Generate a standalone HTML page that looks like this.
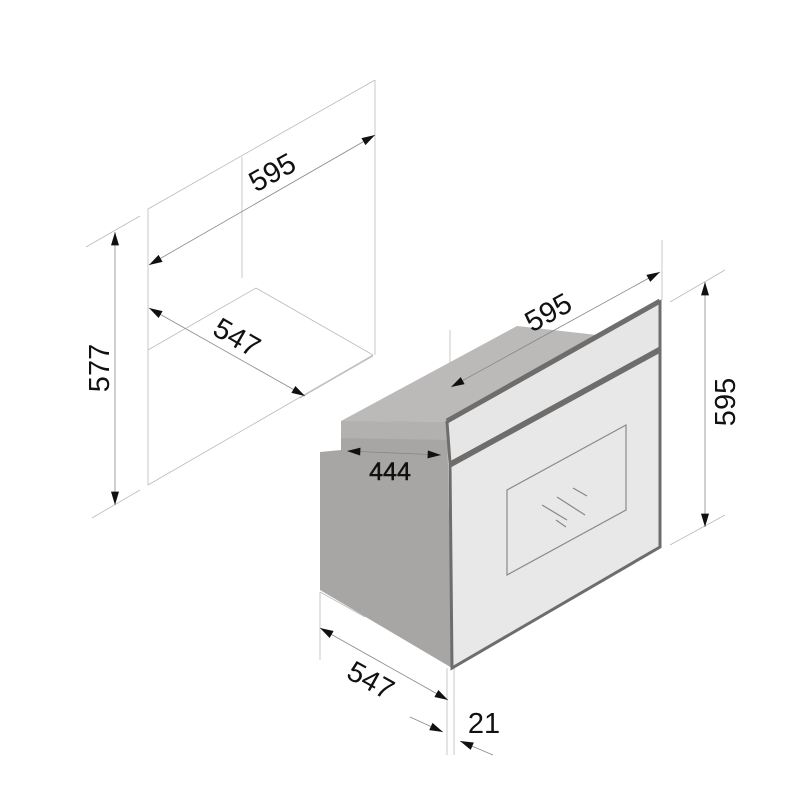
<!DOCTYPE html>
<html><head><meta charset="utf-8"><style>html,body{margin:0;padding:0;background:#fff}svg{display:block}</style></head>
<body>
<svg width="800" height="800" viewBox="0 0 800 800" xmlns="http://www.w3.org/2000/svg" font-family="Liberation Sans, sans-serif">
<defs>
<marker id="a" viewBox="0 0 10 6" refX="10" refY="3" markerWidth="16" markerHeight="8" markerUnits="userSpaceOnUse" orient="auto-start-reverse"><path d="M0,0 L10,3 L0,6 z" fill="#111"/></marker>
</defs>
<g stroke="#bbb" stroke-width="0.8" fill="none">
<line x1="148" y1="209" x2="148" y2="485"/>
<line x1="148" y1="209" x2="375" y2="80"/>
<line x1="375" y1="80" x2="375" y2="355"/>
<line x1="242" y1="157" x2="242" y2="278"/>
<line x1="148" y1="485" x2="373" y2="355"/>
<line x1="148" y1="350" x2="256" y2="288"/>
<line x1="256" y1="288" x2="373" y2="355"/>
<line x1="86" y1="247" x2="140" y2="216"/>
<line x1="92" y1="518" x2="140" y2="490"/>
<line x1="300" y1="398" x2="373" y2="356"/>
<line x1="662" y1="240" x2="662" y2="300"/>
<line x1="670" y1="302" x2="725" y2="270"/>
<line x1="670" y1="545" x2="725" y2="515"/>
<line x1="320" y1="592" x2="320" y2="660"/>
<line x1="320" y1="592" x2="365" y2="617"/>
<line x1="447" y1="668" x2="447" y2="755"/>
<line x1="454" y1="668" x2="454" y2="755"/>
<line x1="450" y1="330" x2="450" y2="420"/>
</g>
<polygon points="341,421 517,326 597,335 447,422" fill="#bcbab9"/>
<polygon points="320,452 341,450 341,421 447,422 448,465 452,668 320,590" fill="#a8a6a5"/>
<polygon points="341,421 447,422 448,440 341,438" fill="#b3b1b0"/>
<polygon points="447,422 660,302 660,348 450,463" fill="#e6e6e6" stroke="#6f6d6c" stroke-width="3"/>
<line x1="447" y1="421" x2="660" y2="301" stroke="#6f6d6c" stroke-width="5"/>
<polygon points="450,465 660,350 660,547 452,668" fill="#e8e8e8" stroke="#6f6d6c" stroke-width="3"/>
<line x1="450" y1="465" x2="660" y2="350" stroke="#6f6d6c" stroke-width="5"/>
<polygon points="507,490 626,425 626,510 507,575" fill="none" stroke="#8a8a8a" stroke-width="1.2"/>
<g stroke="#888" stroke-width="1.2">
<line x1="542" y1="505" x2="567" y2="520"/><line x1="557" y1="497" x2="585" y2="515"/>
<line x1="573" y1="488" x2="587" y2="496"/><line x1="556" y1="520" x2="566" y2="527"/>
</g>
<g stroke="#888" stroke-width="0.8" marker-start="url(#a)" marker-end="url(#a)">
<line x1="149" y1="265" x2="375" y2="135"/>
<line x1="149" y1="308" x2="305" y2="396"/>
<line x1="115" y1="232" x2="115" y2="505"/>
<line x1="451" y1="387" x2="660" y2="272"/>
<line x1="705" y1="282" x2="705" y2="527"/>
<line x1="347" y1="451" x2="441" y2="455"/>
<line x1="320" y1="628" x2="448" y2="700"/>
</g>
<g stroke="#888" stroke-width="0.8">
<line x1="410" y1="717" x2="443" y2="732" marker-end="url(#a)"/>
<line x1="493" y1="755" x2="460" y2="741" marker-end="url(#a)"/>
</g>
<g font-size="29" fill="#111">
<text transform="translate(277,181) rotate(-29)" text-anchor="middle">595</text>
<text transform="translate(232,346) rotate(30)" text-anchor="middle">547</text>
<text transform="translate(109,368) rotate(-90)" text-anchor="middle">577</text>
<text transform="translate(553,321) rotate(-29)" text-anchor="middle">595</text>
<text transform="translate(735,402) rotate(-90)" text-anchor="middle">595</text>
<text x="390" y="480" text-anchor="middle" font-size="25" stroke="#111" stroke-width="0.5">444</text>
<text transform="translate(366,689) rotate(29)" text-anchor="middle">547</text>
<text x="484" y="733" text-anchor="middle">21</text>
</g>
</svg>
</body></html>
